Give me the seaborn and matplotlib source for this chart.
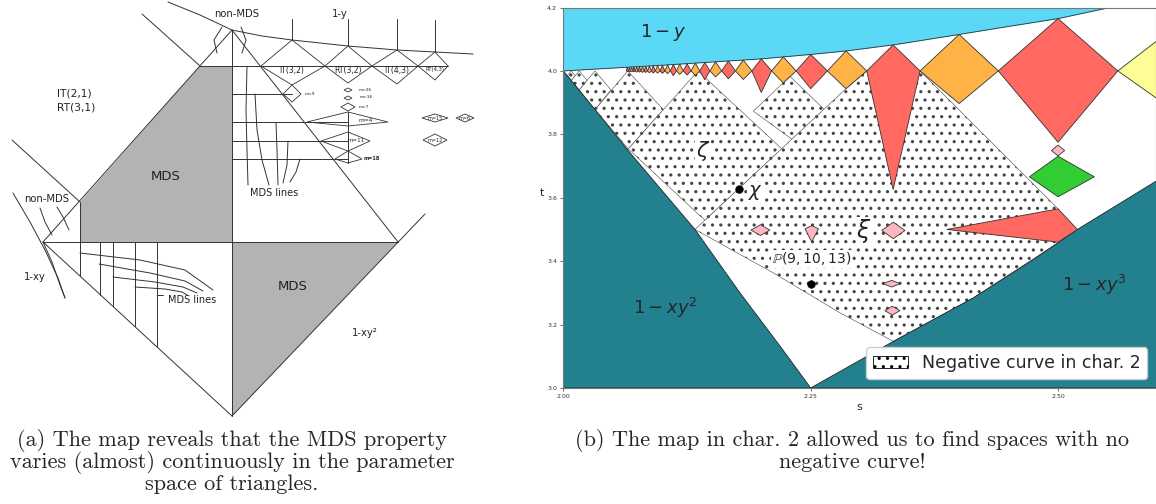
import numpy as np
import seaborn as sns
import matplotlib.pyplot as plt
from matplotlib.patches import Patch

sns.set_theme(style="ticks")
plt.rcParams["font.family"] = ["DejaVu Sans"]
plt.rcParams["hatch.color"] = "black"
plt.rcParams["hatch.linewidth"] = 1.1

# ---------------- right panel data (s, t) ----------------
cyan_s = [2.0, 2.1, 2.2, 2.25, 2.2857, 2.3333, 2.4, 2.4413, 2.5, 2.5525, 2.62]
cyan_t = [4.0, 4.018, 4.038, 4.052, 4.063, 4.082, 4.115, 4.136, 4.165, 4.2, 4.25]

xy2_s = [2.0, 2.0673, 2.133, 2.1785, 2.219, 2.25]
xy2_t = [4.0, 3.742, 3.5, 3.3, 3.132, 3.0]

xy3_s = [2.25, 2.3335, 2.4143, 2.475, 2.5, 2.5195, 2.6]
xy3_t = [3.0, 3.147, 3.284, 3.405, 3.458, 3.5, 3.654]

# diamonds hanging from t = 4
dm_center = [2.5, 2.4, 2.3333, 2.2857, 2.25, 2.2222, 2.2, 2.1818, 2.1667, 2.1538,
             2.1429, 2.1333, 2.125, 2.1176, 2.1111, 2.1053, 2.1, 2.0952, 2.0909,
             2.087, 2.0833, 2.08, 2.0769, 2.0741, 2.0714, 2.069, 2.0667, 2.0645]
dm_left = [2.4396, 2.3605, 2.3066, 2.2668, 2.2353, 2.2105, 2.1905, 2.1739, 2.16, 2.1481,
           2.1379, 2.129, 2.1212, 2.1143, 2.1081, 2.1026, 2.0976, 2.093, 2.0889,
           2.0851, 2.0816, 2.0784, 2.0755, 2.0727, 2.0702, 2.0678, 2.0656, 2.0635]
dm_right = [2.5604] + dm_left[:-1]
dm_bottom = [3.775, 3.897, 3.626, 3.944, 3.944, 3.962, 3.932, 3.973, 3.975, 3.981,
             3.972, 3.986, 3.987, 3.989, 3.985, 3.991, 3.992, 3.993, 3.993,
             3.994, 3.995, 3.995, 3.996, 3.996, 3.997, 3.997, 3.997, 3.998]

yellow_s = [2.5604, 2.6667, 2.773, 2.6667]
yellow_t = [4.0, 4.255, 4.0, 3.766]

green_s = [2.471, 2.5, 2.5367, 2.5]
green_t = [3.666, 3.731, 3.666, 3.603]

wedge_s = [2.3875, 2.5, 2.5195, 2.5]
wedge_t = [3.5, 3.565, 3.5, 3.46]

pink_s = [2.1992, 2.251, 2.3335, 2.3318, 2.3325, 2.5]
pink_t = [3.498, 3.502, 3.497, 3.329, 3.244, 3.749]
pink_hw = [0.0096, 0.0068, 0.0118, 0.0088, 0.0076, 0.0067]
pink_up = [0.017, 0.010, 0.026, 0.0105, 0.014, 0.017]
pink_dn = [0.017, 0.041, 0.026, 0.0105, 0.014, 0.017]

# dotted ("negative curve") regions
dd_s = [2.008, 2.012, 2.008, 2.004]
dd_t = [4.0, 3.985, 3.97, 3.985]
dc_s = [2.016, 2.024, 2.016, 2.008]
dc_t = [4.0, 3.97, 3.94, 3.97]
db_s = [2.032, 2.048, 2.032, 2.016]
db_t = [4.0, 3.94, 3.878, 3.94]
da_s = [2.065, 2.101, 2.0656, 2.032]
da_t = [4.0, 3.878, 3.754, 3.878]
zeta_s = [2.136, 2.2209, 2.143, 2.0656]
zeta_t = [4.0, 3.754, 3.529, 3.754]
d2_s = [2.229, 2.2638, 2.2313, 2.192]
d2_t = [3.983, 3.878, 3.784, 3.873]
main_s = [2.133, 2.2857, 2.3066, 2.3605, 2.5, 2.5, 2.4143, 2.3335, 2.2796, 2.2122]
main_t = [3.5, 3.944, 4.0, 4.0, 3.565, 3.458, 3.284, 3.147, 3.237, 3.363]

pts_s = [2.2503, 2.1778]
pts_t = [3.3293, 3.628]

RED, ORANGE, YELLOW = "#FF6961", "#FFB347", "#FDFD96"
GREEN, PINK = "#32CD32", "#FFB6C1"
CYAN, TEAL = "#5AD8F5", "#22808F"

# ---------------- left panel data (pixel-like sketch coords) ----------------
lp_lines = [
    [(232, 30), (43, 242)], [(43, 242), (232, 416)], [(232, 416), (425, 214)],
    [(232, 30), (398, 242)], [(232, 30), (232, 416)], [(43, 242), (398, 242)],
    [(200, 66), (448, 66)], [(80, 202), (80, 276)],
    [(100, 242), (100, 295)], [(113, 242), (113, 306)],
    [(135, 242), (135, 326)], [(157, 242), (157, 347)],
    [(12, 140), (80, 202)],
    [(292, 19), (292, 40)], [(348, 19), (348, 46)],
    [(397, 19), (397, 50)], [(435, 20), (435, 52)],
    [(232, 94), (292, 94)], [(232, 122), (348, 122)],
    [(232, 141), (348, 141)], [(232, 159), (348, 159)], [(348, 112), (348, 163)],
]
lp_curves = [
    [(168, 2), (200, 15), (232, 30), (262, 36), (292, 40), (348, 46), (397, 50), (435, 52), (473, 54)],
    [(142, 14), (160, 30), (180, 48), (200, 66)],
    [(247, 67), (246, 110), (247, 150), (248, 185)],
    [(255, 94), (257, 130), (262, 160), (269, 185)],
    [(276, 123), (277, 150), (278, 185)],
    [(288, 141), (287, 165), (283, 183)],
    [(300, 159), (296, 172), (290, 182)],
    [(80, 253), (140, 260), (185, 270), (213, 290)],
    [(99, 264), (150, 273), (185, 281), (203, 291)],
    [(113, 277), (155, 282), (183, 287), (197, 293)],
    [(135, 287), (165, 289), (182, 292), (187, 295)],
    [(157, 295), (163, 295)],
    [(13, 193), (30, 222), (45, 250), (58, 278), (65, 298)],
    [(43, 242), (52, 262), (60, 285), (65, 298)],
    [(40, 208), (45, 222), (52, 235)],
    [(57, 207), (63, 217), (69, 230)],
    [(217, 53), (214, 40), (222, 27)],
    [(242, 53), (246, 40), (241, 27)],
]
lp_gray = [
    [(200, 66), (232, 66), (232, 242), (80, 242), (80, 202)],
    [(232, 242), (398, 242), (232, 416)],
]
lp_diamonds = [
    [(261, 66), (292, 40), (325, 66), (292, 85)],
    [(325, 66), (348, 46), (372, 66), (348, 83)],
    [(372, 66), (397, 50), (418, 66), (397, 84)],
    [(418, 66), (435, 52), (448, 66), (435, 80)],
    [(283, 94), (292, 85), (301, 94), (292, 102)],
    [(307, 122), (348, 112), (388, 122), (348, 126)],
    [(321, 141), (348, 132), (370, 141), (348, 151)],
    [(335, 159), (348, 151), (362, 159), (348, 163)],
    [(341, 107), (348, 103), (355, 107), (348, 111)],
    [(344, 98), (348, 96), (352, 98), (348, 100)],
    [(344, 90), (348, 88), (352, 90), (348, 92)],
    [(422, 118), (435, 114), (448, 118), (435, 122)],
    [(456, 118), (465, 114), (474, 118), (465, 122)],
    [(423, 140), (435, 134), (447, 140), (435, 146)],
]
lp_texts = [
    ("non-MDS", 237, 14, 7.2), ("1-y", 340, 14, 7.2), ("MDS", 166, 176, 9.5),
    ("MDS lines", 274, 193, 7), ("non-MDS", 47, 199, 7.2), ("1-xy", 35, 277, 7.2),
    ("MDS lines", 192, 300, 7), ("MDS", 293, 286, 9.5), ("1-xy²", 365, 333, 7.2),
    ("IT(3,2)", 292, 71, 5.5), ("RT(3,2)", 348, 71, 5.5), ("IT(4,3)", 397, 71, 5.5),
    ("RT(4,3)", 435, 69, 3.8),
    ("m=9", 310, 94, 3.2), ("m=26", 365, 90, 3.2), ("m=16", 366, 97, 3.2),
    ("m=7", 364, 107, 3.2), ("m=4", 366, 121, 4.2), ("m=11", 356, 141, 4),
    ("m=15", 435, 118, 3.5), ("m=6", 465, 118, 3.5), ("m=12", 435, 140, 3.5),
]

fig = plt.figure(figsize=(11.56, 5.04), dpi=100)

# ===== left panel =====
axl = fig.add_axes([0.0, 84 / 504, 500 / 1156, 420 / 504])
axl.set_xlim(0, 500)
axl.set_ylim(420, 0)
axl.axis("off")
for poly in lp_gray:
    xs, ys = zip(*poly)
    axl.fill(xs, ys, color="#b3b3b3", lw=0)
for seg in lp_lines + lp_curves:
    xs, ys = zip(*seg)
    axl.plot(xs, ys, color="#333333", lw=0.7)
for poly in lp_diamonds:
    xs, ys = zip(*poly)
    axl.fill(xs, ys, facecolor="white", edgecolor="#333333", lw=0.6)
for txt, x, y, fs in lp_texts:
    axl.text(x, y, txt, fontsize=fs, ha="center", va="center", color="#222222")
axl.text(57, 93, "IT(2,1)", fontsize=7.7, ha="left", va="center", color="#222222")
axl.text(57, 107, "RT(3,1)", fontsize=7.7, ha="left", va="center", color="#222222")
axl.text(364, 159, "m=18", fontsize=3.6, ha="left", va="center", fontweight="bold")

# ===== right panel =====
ax = fig.add_axes([563.4 / 1156, 1 - 388 / 504, 592.6 / 1156, 380.5 / 504])
ax.set_xlim(2.0, 2.599)
ax.set_ylim(3.0, 4.2)

dot_kw = dict(facecolor="white", edgecolor="#444444", hatch="..", lw=0.4, zorder=1)
for xs, ys in [(dd_s, dd_t), (dc_s, dc_t), (db_s, db_t), (da_s, da_t),
               (zeta_s, zeta_t), (d2_s, d2_t), (main_s, main_t)]:
    ax.fill(xs, ys, **dot_kw)

ax.fill_between(cyan_s, cyan_t, 4.25, color=CYAN, lw=0, zorder=2)
ax.plot(cyan_s, cyan_t, color="#333333", lw=0.6, zorder=2)
ax.fill(xy2_s + [2.0], xy2_t + [3.0], facecolor=TEAL, edgecolor="#222222", lw=0.6, zorder=2)
ax.fill(xy3_s + [2.6], xy3_t + [3.0], facecolor=TEAL, edgecolor="#222222", lw=0.6, zorder=2)

tops = np.interp(dm_center, cyan_s, cyan_t)
for i, c in enumerate(dm_center):
    col = RED if i % 2 == 0 else ORANGE
    ax.fill([dm_left[i], c, dm_right[i], c], [4.0, tops[i], 4.0, dm_bottom[i]],
            facecolor=col, edgecolor="#333333", lw=0.6, zorder=3)
ax.fill(yellow_s, yellow_t, facecolor=YELLOW, edgecolor="#333333", lw=0.6, zorder=3)
ax.fill(green_s, green_t, facecolor=GREEN, edgecolor="#333333", lw=0.6, zorder=3)
ax.fill(wedge_s, wedge_t, facecolor=RED, edgecolor="#333333", lw=0.6, zorder=3)
for s, t, w, u, d in zip(pink_s, pink_t, pink_hw, pink_up, pink_dn):
    ax.fill([s - w, s, s + w, s], [t, t + u, t, t - d],
            facecolor=PINK, edgecolor="#333333", lw=0.6, zorder=3)

sns.scatterplot(x=pts_s, y=pts_t, color="black", s=30, edgecolor="black", zorder=5, ax=ax)

box = dict(facecolor="white", edgecolor="none", pad=0.5)
ax.text(2.1013, 4.1227, r"$1 - y$", fontsize=13, ha="center", va="center", zorder=6)
ax.text(2.103, 3.254, r"$1 - xy^2$", fontsize=13, ha="center", va="center", zorder=6)
ax.text(2.537, 3.326, r"$1 - xy^3$", fontsize=13, ha="center", va="center", zorder=6)
ax.text(2.1414, 3.747, r"$\zeta$", fontsize=15, ha="center", va="center", zorder=6, bbox=box)
ax.text(2.304, 3.494, r"$\xi$", fontsize=17, ha="center", va="center", zorder=6, bbox=box)
ax.text(2.194, 3.616, r"$\chi$", fontsize=14, ha="center", va="center", zorder=6, bbox=box)
ax.text(2.251, 3.407, r"$\mathbb{P}(9, 10, 13)$", fontsize=10, ha="center", va="center",
        zorder=6, bbox=box)

ax.set_xticks([2.0, 2.25, 2.5])
ax.set_xticklabels(["2.00", "2.25", "2.50"])
ax.set_yticks([3.0, 3.2, 3.4, 3.6, 3.8, 4.0, 4.2])
ax.set_yticklabels(["3.0", "3.2", "3.4", "3.6", "3.8", "4.0", "4.2"])
ax.tick_params(labelsize=4.5, length=2.5, width=0.5, pad=2, colors="#333333")
ax.set_xlabel("s", fontsize=8, labelpad=2)
ax.set_ylabel("t", fontsize=8, labelpad=4, rotation=0)
for sp in ax.spines.values():
    sp.set_color("#777777")
    sp.set_linewidth(0.8)
    sp.set_zorder(7)

handle = Patch(facecolor="white", edgecolor="black", hatch="..", lw=0.6,
               label="Negative curve in char. 2")
leg = ax.legend(handles=[handle], loc="lower right", fontsize=12.5, handlelength=2.0,
                borderaxespad=0.5, framealpha=1.0)
leg.set_zorder(8)

# captions
cap_kw = dict(fontsize=16, family="cmr10", ha="center", va="center")
fig.text(232 / 1156, 1 - 440 / 504, "(a) The map reveals that the MDS property", **cap_kw)
fig.text(232 / 1156, 1 - 462 / 504, "varies (almost) continuously in the parameter", **cap_kw)
fig.text(232 / 1156, 1 - 484 / 504, "space of triangles.", **cap_kw)
fig.text(852 / 1156, 1 - 440 / 504, "(b) The map in char. 2 allowed us to find spaces with no", **cap_kw)
fig.text(852 / 1156, 1 - 462 / 504, "negative curve!", **cap_kw)

fig.savefig("out.png", dpi=100)
